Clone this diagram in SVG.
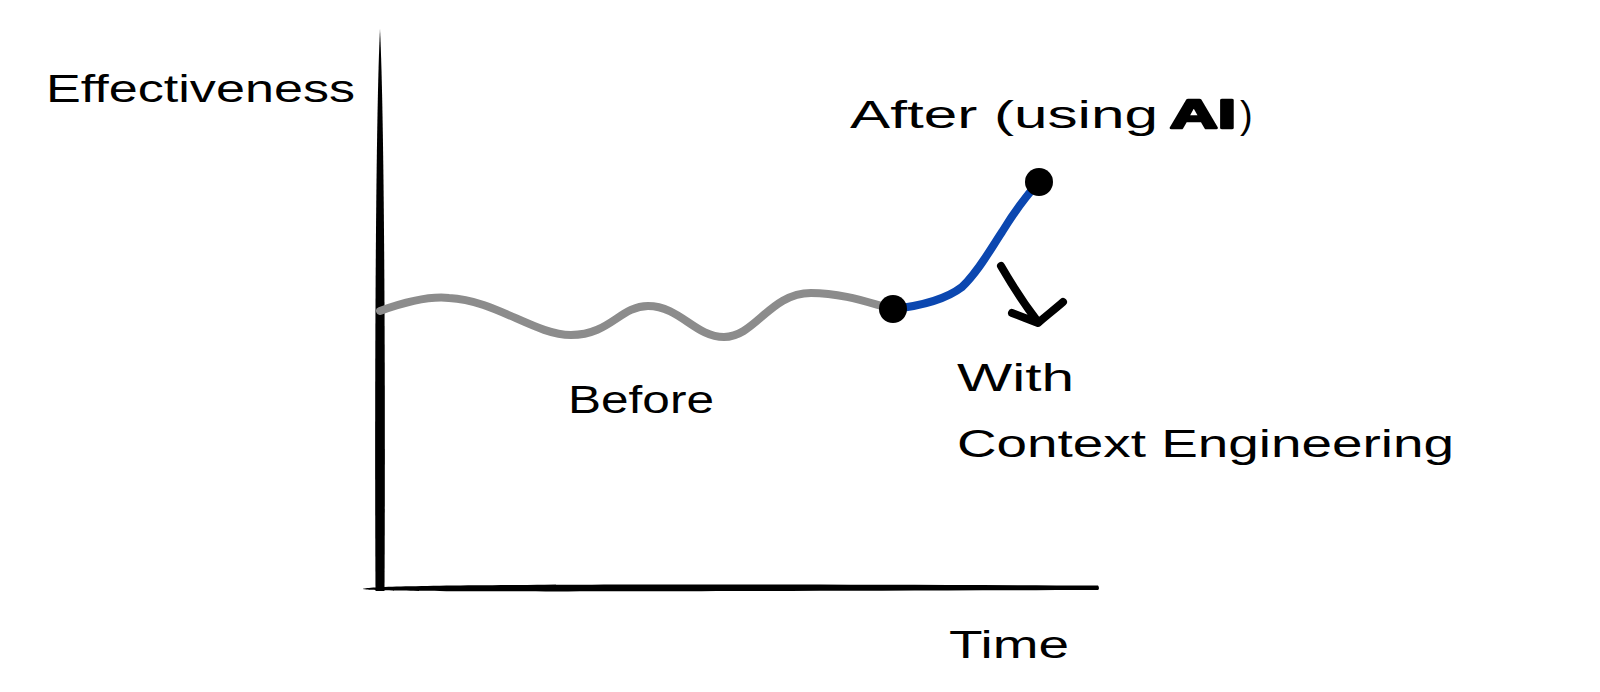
<svg xmlns="http://www.w3.org/2000/svg" width="1600" height="692" viewBox="0 0 1600 692">
<style>
.lbl{font-family:"Liberation Sans","DejaVu Sans",sans-serif;font-size:38px;fill:#000;}
.ai{font-family:"Liberation Sans",Arial,sans-serif;font-weight:bold;font-size:40px;fill:#000;stroke:#000;stroke-width:2.5;stroke-linejoin:round;}
.curve{fill:none;stroke-linecap:round;stroke-linejoin:round;stroke-width:8;}
.dot{fill:#000;}
</style>
<rect width="1600" height="692" fill="#fff"/>
<g id="axes">
<path id="y-axis" d="M380,29 C384.5,120 385.5,400 384.5,591 L375.5,591 C374.5,400 375.5,120 380,29 Z" fill="#000"/>
<path id="x-axis" d="M363,589 C368,584.5 600,583.5 1098,585.5 C1099.5,587.5 1099,589.5 1098,590 C600,591.5 368,592.5 363,589 Z" fill="#000"/>
</g>
<g id="connectors">
<path id="before-curve" class="curve" stroke="#8c8c8c" d="M380,311 C405,302 430,296 449,298 C495,300 535,335 571,335 C610,335 620,306 648,306 C680,306 695,337 724,337 C755,337 770,293 811,293 C845,293 875,305 893,309"/>
<path id="after-curve" class="curve" stroke="#0b47b0" d="M893,309 C920,306 945,300 962,287 C978,272 990,250 1002,232 C1013,214 1025,197 1039,182"/>
<path id="arrow" fill="none" stroke="#000" stroke-width="8" stroke-linecap="round" stroke-linejoin="round" d="M1001,266 C1012,285 1025,305 1038,322 M1012,313 C1020,316 1030,320 1038,323 C1046,316 1055,309 1063,302"/>
</g>
<g id="node-start"><circle class="dot" cx="893" cy="309" r="14"/></g>
<g id="node-end"><circle class="dot" cx="1039" cy="182" r="14"/></g>
<g id="label-effectiveness"><text class="lbl" x="46" y="102" textLength="309" lengthAdjust="spacingAndGlyphs">Effectiveness</text></g>
<g id="label-after"><text class="lbl" x="850" y="128" textLength="308" lengthAdjust="spacingAndGlyphs">After (using</text><text class="ai" x="1170" y="128" textLength="66" lengthAdjust="spacingAndGlyphs">AI</text><text class="lbl" x="1240" y="128">)</text></g>
<g id="label-before"><text class="lbl" x="568" y="413" textLength="146" lengthAdjust="spacingAndGlyphs">Before</text></g>
<g id="label-with"><text class="lbl" x="957" y="391" textLength="117" lengthAdjust="spacingAndGlyphs">With</text><text class="lbl" x="957" y="457" textLength="497" lengthAdjust="spacingAndGlyphs">Context Engineering</text></g>
<g id="label-time"><text class="lbl" x="949" y="658" textLength="120" lengthAdjust="spacingAndGlyphs">Time</text></g>
</svg>
